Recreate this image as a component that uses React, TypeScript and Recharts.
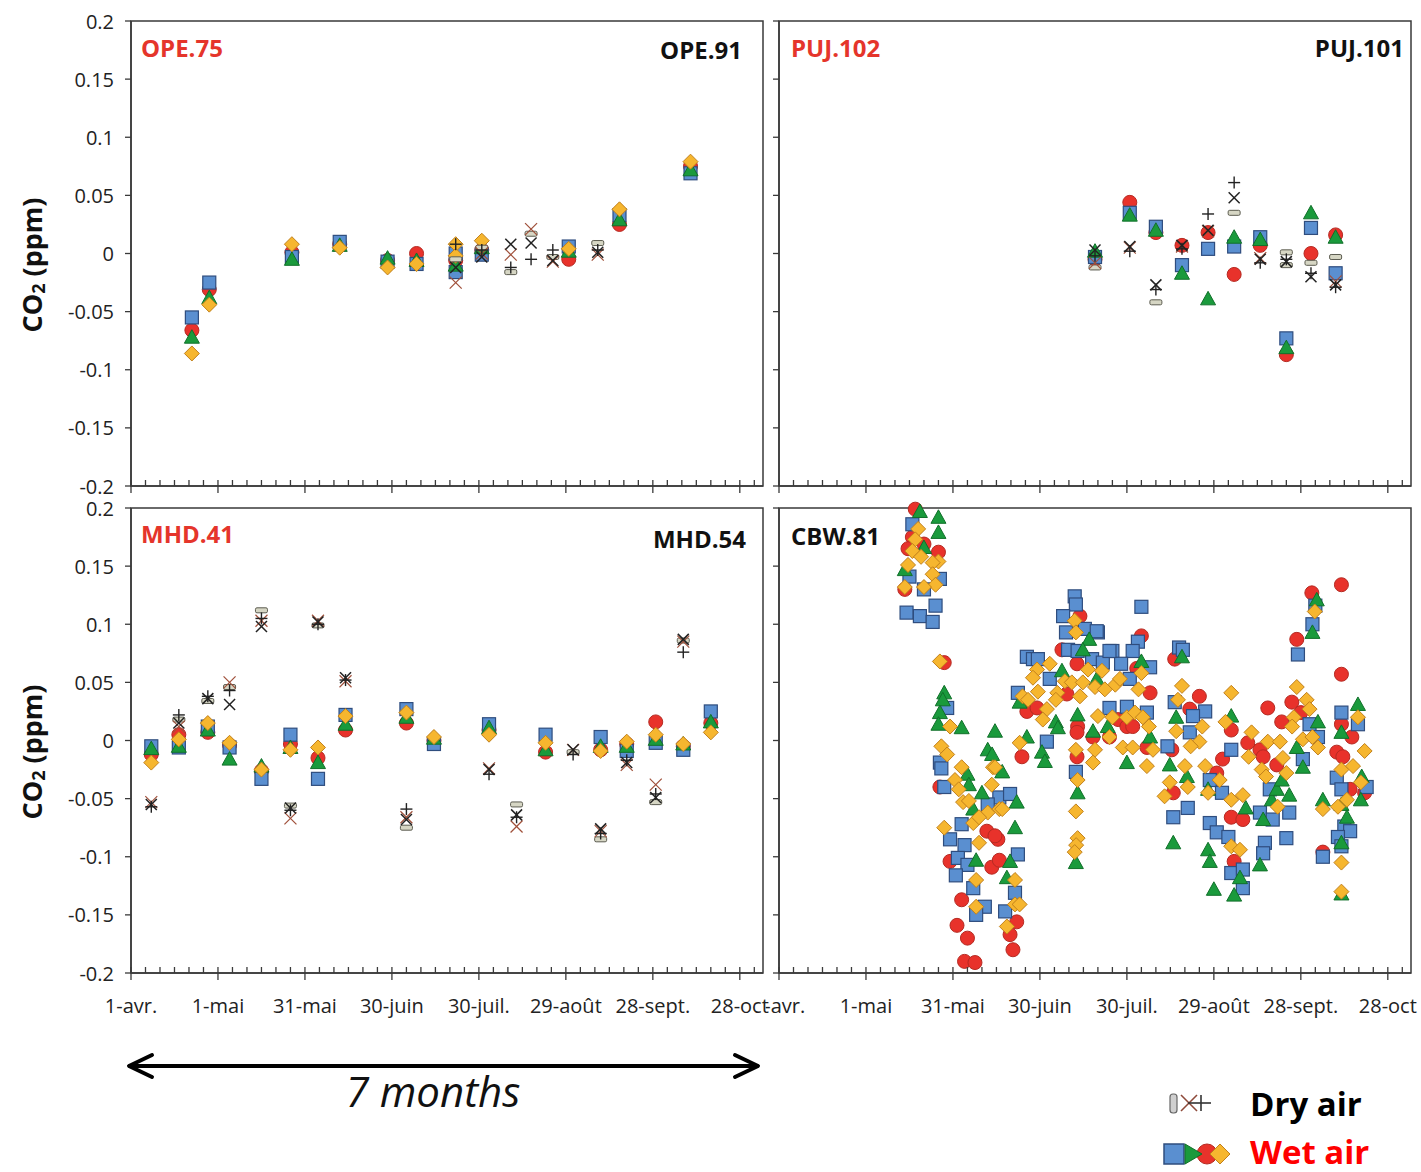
import { ScatterChart, Scatter, XAxis, YAxis, ReferenceArea } from "recharts";

type Pt = [number, number];

// axis ticks / labels
const xTickLabels = ["1-avr.", "1-mai", "31-mai", "30-juin", "30-juil.", "29-août", "28-sept.", "28-oct"];
const xTicks = [0, 5, 10, 15, 20, 25, 30, 35, 40, 45, 50, 55, 60, 65, 70, 75, 80, 85, 90, 95, 100, 105, 110, 115, 120, 125, 130, 135, 140, 145, 150, 155, 160, 165, 170, 175, 180, 185, 190, 195, 200, 205, 210, 215];
const yTicks = [-0.2, -0.15, -0.1, -0.05, 0, 0.05, 0.1, 0.15, 0.2];

// OPE (top left) — [day since 1-avr, CO2 ppm]
const opeRed: Pt[] = [[21, -0.066], [27, -0.031], [55.5, 0.001], [72, 0.008], [88.5, -0.006], [98.5, 0.0], [112, -0.006], [121, 0.003], [151, -0.005], [168.5, 0.025], [193, 0.075]];
const opeBlue: Pt[] = [[21, -0.055], [27, -0.025], [55.5, -0.003], [72, 0.01], [88.5, -0.007], [98.5, -0.009], [112, -0.016], [112, 0.0], [121, -0.001], [151, 0.006], [168.5, 0.033], [193, 0.069]];
const opeGreen: Pt[] = [[21, -0.072], [27, -0.038], [55.5, -0.005], [72, 0.007], [88.5, -0.004], [98.5, -0.006], [112, -0.01], [121, 0.005], [151, 0.002], [168.5, 0.029], [193, 0.072]];
const opeDiamond: Pt[] = [[21, -0.086], [27, -0.044], [55.5, 0.008], [72, 0.005], [88.5, -0.012], [98.5, -0.009], [112, 0.008], [112, -0.002], [121, 0.011], [151, 0.004], [168.5, 0.038], [193, 0.079]];
const opeDash: Pt[] = [[112, -0.005], [121, 0.005], [131, -0.016], [138, 0.017], [145.5, -0.003], [161, 0.009]];
const opeBrown: Pt[] = [[112, -0.025], [121, 0.0], [131, -0.001], [138, 0.021], [145.5, -0.007], [161, -0.001]];
const opeX: Pt[] = [[112, -0.012], [121, -0.003], [131, 0.008], [138, 0.009], [145.5, -0.006], [161, 0.001]];
const opePlus: Pt[] = [[112, 0.008], [121, 0.003], [131, -0.012], [138, -0.005], [145.5, 0.003], [161, 0.003]];

// PUJ (top right)
const pujRed: Pt[] = [[109, -0.005], [121, 0.044], [130, 0.018], [139, 0.007], [148, 0.018], [157, -0.018], [166, 0.007], [175, -0.087], [183.5, 0.0], [192, 0.016]];
const pujBlue: Pt[] = [[109, -0.003], [121, 0.035], [130, 0.023], [139, -0.01], [148, 0.004], [157, 0.006], [166, 0.014], [175, -0.073], [183.5, 0.022], [192, -0.017]];
const pujGreen: Pt[] = [[109, 0.002], [121, 0.033], [130, 0.02], [139, -0.017], [148, -0.039], [157, 0.014], [166, 0.012], [175, -0.081], [183.5, 0.035], [192, 0.014]];
const pujDash: Pt[] = [[109, -0.012], [130, -0.042], [157, 0.035], [175, 0.001], [175, -0.01], [183.5, -0.008], [192, -0.003]];
const pujBrown: Pt[] = [[109, -0.008], [121, 0.005], [139, 0.006], [148, 0.019], [166, -0.004], [192, -0.024]];
const pujX: Pt[] = [[109, 0.003], [121, 0.006], [130, -0.027], [139, 0.007], [148, 0.02], [157, 0.048], [166, -0.005], [175, -0.007], [183.5, -0.02], [192, -0.027]];
const pujPlus: Pt[] = [[109, -0.002], [121, 0.002], [130, -0.031], [139, 0.004], [148, 0.034], [157, 0.061], [166, -0.008], [175, -0.005], [183.5, -0.017], [192, -0.029]];

// MHD (bottom left)
const mhdRed: Pt[] = [[7, -0.012], [16.5, 0.005], [26.5, 0.007], [34, -0.004], [45, -0.026], [55, -0.003], [64.5, -0.015], [74, 0.009], [95, 0.015], [104.5, 0.0], [123.5, 0.009], [143, -0.01], [162, -0.008], [171, -0.003], [181, 0.016], [190.5, -0.005], [200, 0.015]];
const mhdBlue: Pt[] = [[7, -0.005], [16.5, -0.006], [26.5, 0.012], [34, -0.006], [45, -0.033], [55, 0.005], [64.5, -0.033], [74, 0.022], [95, 0.027], [104.5, -0.003], [123.5, 0.014], [143, 0.005], [162, 0.003], [171, -0.009], [181, -0.002], [190.5, -0.008], [200, 0.025]];
const mhdGreen: Pt[] = [[7, -0.007], [16.5, -0.005], [26.5, 0.009], [34, -0.016], [45, -0.022], [55, -0.006], [64.5, -0.019], [74, 0.014], [95, 0.02], [104.5, 0.002], [123.5, 0.011], [143, -0.008], [162, -0.005], [171, -0.005], [181, 0.001], [190.5, -0.003], [200, 0.016]];
const mhdDiamond: Pt[] = [[7, -0.019], [16.5, 0.001], [26.5, 0.015], [34, -0.002], [45, -0.025], [55, -0.008], [64.5, -0.006], [74, 0.021], [95, 0.024], [104.5, 0.003], [123.5, 0.005], [143, -0.002], [162, -0.009], [171, -0.001], [181, 0.005], [190.5, -0.003], [200, 0.007]];
const mhdDash: Pt[] = [[16.5, 0.018], [26.5, 0.034], [34, 0.046], [45, 0.112], [55, -0.056], [64.5, 0.099], [95, -0.075], [133, -0.055], [152.5, -0.01], [162, -0.085], [181, -0.053], [190.5, 0.086]];
const mhdBrown: Pt[] = [[7, -0.053], [16.5, 0.012], [34, 0.05], [45, 0.103], [55, -0.067], [64.5, 0.103], [74, 0.051], [95, -0.066], [123.5, -0.024], [133, -0.074], [152.5, -0.008], [162, -0.078], [171, -0.021], [181, -0.038], [190.5, 0.085]];
const mhdX: Pt[] = [[7, -0.055], [16.5, 0.015], [26.5, 0.036], [34, 0.031], [45, 0.098], [55, -0.058], [64.5, 0.102], [74, 0.054], [95, -0.068], [123.5, -0.025], [133, -0.064], [152.5, -0.008], [162, -0.076], [171, -0.019], [181, -0.049], [190.5, 0.087]];
const mhdPlus: Pt[] = [[7, -0.057], [16.5, 0.022], [26.5, 0.038], [34, 0.043], [45, 0.105], [55, -0.06], [64.5, 0.1], [74, 0.052], [95, -0.059], [123.5, -0.029], [133, -0.066], [152.5, -0.012], [162, -0.08], [171, -0.017], [181, -0.046], [190.5, 0.076]];

// CBW (bottom right)
const cbwRed: Pt[] = [
  [47, 0.199], [46, 0.175], [50, 0.169], [44.5, 0.165], [55, 0.162], [43.4, 0.13], [57, 0.067],
  [55.5, -0.04], [71.7, -0.078], [75.5, -0.085], [59, -0.104], [73.4, -0.109], [76, -0.103], [63, -0.137], [82, -0.156],
  [61.4, -0.159], [65, -0.17], [79.7, -0.167], [80.7, -0.18], [64, -0.19], [67.6, -0.191], [74.5, -0.082],
  [103.8, 0.107], [125, 0.09], [97.6, 0.078], [102.8, 0.066], [123.4, 0.062], [128, 0.041], [85.5, 0.025], [89, 0.028],
  [99.3, 0.04], [103, 0.012], [102.8, 0.007], [102.8, -0.014], [83.8, -0.014], [108.3, 0.003], [114, 0.003], [117, 0.018],
  [120, 0.012], [122, 0.012], [126.9, -0.006],
  [136.5, 0.07], [145, 0.038], [141.7, 0.027], [135.5, -0.008], [136, -0.045], [156, 0.009], [153, -0.016], [151, -0.028],
  [156, -0.066], [160, -0.068], [157, -0.104], [161.7, -0.002], [165.9, -0.008], [168.6, 0.028], [167, -0.014], [173.4, 0.016],
  [171.7, -0.021], [176.9, 0.033], [180, 0.024], [183.8, 0.127], [178.6, 0.087], [194, 0.134], [194, 0.057], [194, 0.014],
  [197.6, 0.003], [192.4, -0.01], [194.5, -0.014], [197, -0.042], [202, -0.045], [187.6, -0.096],
];
const cbwBlue: Pt[] = [
  [46, 0.186], [45, 0.141], [55.5, 0.139], [50, 0.13], [44, 0.11], [48.6, 0.107], [53, 0.102], [54, 0.116],
  [58, 0.028], [55.5, -0.019], [56, -0.024], [57, -0.04], [63, -0.072], [59, -0.085], [64, -0.09], [76, -0.049],
  [79.7, -0.046], [72, -0.055], [61.7, -0.101], [82.4, -0.098], [65, -0.107], [61, -0.116], [67, -0.127], [81.4, -0.131],
  [71, -0.143], [68, -0.15], [78, -0.147],
  [102, 0.124], [102.4, 0.117], [98, 0.107], [125, 0.115], [99, 0.093], [105.5, 0.096], [110, 0.093], [123.8, 0.085],
  [99.7, 0.078], [103, 0.077], [115, 0.077], [122, 0.077], [85.5, 0.072], [87.6, 0.07], [89.3, 0.07], [108, 0.07],
  [111.7, 0.067], [118, 0.066], [128, 0.063], [93.4, 0.053], [121, 0.053], [82.4, 0.041], [92.4, -0.001], [102.4, -0.027],
  [114, 0.028], [120, 0.029], [126.9, 0.024], [109.6, 0.094], [114, 0.077],
  [138, 0.08], [139.3, 0.078], [136.5, 0.033], [147, 0.025], [142.8, 0.021], [141.7, 0.007], [141, -0.058], [134, -0.005],
  [136, -0.066], [156, -0.008], [148.6, -0.034], [152.8, -0.045], [148.6, -0.071], [151, -0.079], [155, -0.083], [156, -0.114],
  [160, -0.111], [160, -0.127], [169.3, -0.042], [165.9, -0.062], [167.6, -0.088], [167, -0.097], [170.3, -0.068], [176, -0.062],
  [175, -0.084], [183, 0.014], [180.7, -0.016], [185.9, 0.003], [184, 0.1], [179, 0.074], [185, 0.116], [194, 0.024],
  [199.7, 0.014], [192.4, -0.032], [202.7, -0.04], [194, -0.042], [195, -0.074], [197, -0.078], [192.8, -0.083], [194, -0.091],
  [187.6, -0.1],
];
const cbwGreen: Pt[] = [
  [48.6, 0.197], [55, 0.192], [55, 0.179], [50, 0.166], [43.4, 0.147],
  [57, 0.041], [56.5, 0.035], [55.5, 0.024], [55, 0.014], [63, 0.011], [65, -0.029], [65.5, -0.038], [67, -0.059],
  [74.5, 0.008], [72, -0.008], [73.5, -0.012], [77, -0.027], [70, -0.045], [82, -0.053], [81.4, -0.075], [68, -0.103],
  [79.7, -0.104], [78.6, -0.118],
  [107, 0.087], [104.8, 0.078], [125, 0.068], [97.6, 0.06], [109.6, 0.053], [83, 0.033], [95.5, 0.016], [96.2, 0.011],
  [103, 0.022], [103, -0.045], [102.4, -0.105], [90.7, -0.01], [91.7, -0.018], [85.5, 0.003], [108.3, 0.008], [113.4, 0.012],
  [128, 0.003], [120, -0.019],
  [139, 0.072], [137, 0.02], [140.7, -0.031], [134.8, -0.021], [136, -0.088], [156, 0.021], [148, -0.042], [159, -0.118],
  [150, -0.128], [157, -0.133], [148, -0.094], [148.6, -0.104], [161, -0.058], [170, -0.051], [167, -0.068], [165.9, -0.107],
  [171.7, -0.042], [173.4, -0.034], [176, -0.047], [178.6, -0.006], [180.7, -0.023], [185.9, 0.016], [185.5, 0.121], [184, 0.093],
  [194, 0.007], [199.7, 0.031], [201, -0.031], [200.7, -0.051], [194, -0.055], [187.6, -0.051], [195.9, -0.066], [194, -0.088],
  [194, -0.132],
];
const cbwDiamond: Pt[] = [
  [48, 0.182], [47, 0.173], [46, 0.163], [49, 0.158], [55, 0.154], [53, 0.153], [44.5, 0.151], [53, 0.143], [54, 0.134],
  [43.4, 0.132], [50, 0.132], [55.5, 0.068],
  [59, 0.012], [56, -0.005], [58, -0.012], [63, -0.023], [60.7, -0.034], [62, -0.042], [63.5, -0.053], [65.5, -0.052],
  [67, -0.071], [57, -0.075], [69, -0.088], [72, -0.062], [76, -0.059], [73.8, -0.023], [73.4, -0.038], [69, -0.066],
  [68, -0.12], [81.4, -0.12], [68, -0.143], [81.4, -0.141], [83, -0.141], [78.6, -0.16], [74.5, -0.023], [77, -0.059],
  [102, 0.103], [102.4, 0.093], [93.4, 0.066], [89, 0.061], [106.6, 0.061], [111.4, 0.06], [125, 0.058], [87.6, 0.054],
  [98.6, 0.051], [101, 0.05], [104.8, 0.05], [109, 0.046], [112.4, 0.044], [116, 0.048], [117.6, 0.053], [124, 0.044],
  [84, 0.038], [85.9, 0.035], [89.3, 0.042], [92.4, 0.027], [91, 0.018], [96, 0.041], [95.5, 0.035], [103.8, 0.038],
  [102.4, -0.008], [103, -0.034], [102.4, -0.061], [103, -0.084], [102.5, -0.09], [102, -0.096], [83, -0.002], [109, -0.008],
  [108.3, -0.019], [110, 0.021], [114, 0.003], [115, 0.02], [120, 0.02], [122.8, 0.024], [125.5, 0.02], [127.6, 0.012],
  [129, -0.008], [118.6, -0.006], [122, -0.006], [126.9, -0.022],
  [139, 0.047], [137.6, 0.035], [137, 0.008], [146, 0.012], [145, -0.001], [142, -0.005], [147, -0.022], [140, -0.022],
  [141, -0.04], [134.8, -0.036], [133, -0.048], [156, 0.041], [154, 0.016], [152, -0.034], [148, -0.045], [156, -0.051],
  [156, -0.091], [159, -0.094], [160, -0.047], [163, 0.007], [162, -0.014], [168.6, -0.001], [166.5, -0.025], [168, -0.031],
  [172.8, -0.001], [173.8, -0.015], [172, -0.057], [175, -0.028], [178.6, 0.046], [182, 0.035], [183, 0.027], [177.6, 0.02],
  [177, 0.012], [180.7, 0.001], [184, 0.003], [185.9, -0.006], [184.8, 0.111], [199.7, 0.02], [202, -0.009], [194, -0.025],
  [198, -0.022], [200.7, -0.036], [195.9, -0.051], [187.6, -0.059], [192.8, -0.057], [194, -0.105], [194, -0.13],
];

const FONT = "'Open Sans', 'Noto Sans', sans-serif";
const AXIS = "#3a3a3a";
const PW = 632;
const PH = 465;

function Square(p: any) {
  return <rect x={p.cx - 6.5} y={p.cy - 6.5} width={13} height={13} fill="#5a8fd0" stroke="#2f4d7e" strokeWidth={1.2} />;
}
function Circle(p: any) {
  return <circle cx={p.cx} cy={p.cy} r={7} fill="#e8322b" stroke="#b52a22" strokeWidth={1} />;
}
function Triangle(p: any) {
  const { cx, cy } = p;
  return <polygon points={`${cx},${cy - 7.5} ${cx + 7.5},${cy + 6} ${cx - 7.5},${cy + 6}`} fill="#1a9a3c" stroke="#11702a" strokeWidth={1} />;
}
function Diamond(p: any) {
  const { cx, cy } = p;
  return <polygon points={`${cx},${cy - 7.5} ${cx + 7.5},${cy} ${cx},${cy + 7.5} ${cx - 7.5},${cy}`} fill="#f6b62f" stroke="#c1801c" strokeWidth={1} />;
}
function Cross(p: any) {
  const { cx, cy } = p;
  return (
    <g stroke="#222" strokeWidth={1.5}>
      <line x1={cx - 5.5} y1={cy - 5.5} x2={cx + 5.5} y2={cy + 5.5} />
      <line x1={cx - 5.5} y1={cy + 5.5} x2={cx + 5.5} y2={cy - 5.5} />
    </g>
  );
}
function BrownCross(p: any) {
  const { cx, cy } = p;
  return (
    <g stroke="#a0503a" strokeWidth={1.2}>
      <line x1={cx - 6} y1={cy - 6} x2={cx + 6} y2={cy + 6} />
      <line x1={cx - 6} y1={cy + 6} x2={cx + 6} y2={cy - 6} />
    </g>
  );
}
function Plus(p: any) {
  const { cx, cy } = p;
  return (
    <g stroke="#222" strokeWidth={1.4}>
      <line x1={cx - 6} y1={cy} x2={cx + 6} y2={cy} />
      <line x1={cx} y1={cy - 6} x2={cx} y2={cy + 6} />
    </g>
  );
}
function Dash(p: any) {
  return <rect x={p.cx - 6} y={p.cy - 2.5} width={12} height={5} rx={1.5} fill="#d6d6c4" stroke="#5c5c50" strokeWidth={1} />;
}

function XTick(props: any) {
  const { x, y, payload, showLabel, mask } = props;
  const d = payload.value;
  const major = d % 30 === 0;
  const label = major ? xTickLabels[d / 30] : "";
  return (
    <g>
      <line x1={x} x2={x} y1={y - 6} y2={major ? y + 7 : y} stroke={AXIS} strokeWidth={1.3} />
      {major && showLabel && (
        <g>
          {mask && <rect x={x - label.length * 4.3} y={y + 20} width={label.length * 8.6} height={24} fill="#fff" />}
          <text x={x} y={y + 32} textAnchor="middle" dominantBaseline="central" fontSize={20} fill="#222" fontFamily={FONT}>
            {label}
          </text>
        </g>
      )}
    </g>
  );
}

function YTick(props: any) {
  const { x, y, payload, showLabel } = props;
  return (
    <g>
      <line x1={x - 6} x2={x} y1={y} y2={y} stroke={AXIS} strokeWidth={1.3} />
      {showLabel && (
        <text x={x - 17} y={y} textAnchor="end" dominantBaseline="central" fontSize={20} fill="#222" fontFamily={FONT}>
          {String(Number(payload.value.toFixed(2)))}
        </text>
      )}
    </g>
  );
}

type Series = { data: Pt[]; shape: (p: any) => any };

function Panel({ left, top, series, showX, showY, mask }: { left: number; top: number; series: Series[]; showX: boolean; showY: boolean; mask?: boolean }) {
  return (
    <div style={{ position: "absolute", left: left - 70, top: top - 20 }}>
      <ScatterChart width={PW + 80} height={PH + 65} margin={{ top: 20, right: 10, bottom: 5, left: 10 }}>
        <ReferenceArea x1={0} x2={218} y1={-0.2} y2={0.2} fill="none" stroke={AXIS} strokeWidth={1.5} ifOverflow="visible" />
        <XAxis
          type="number"
          dataKey="d"
          domain={[0, 218]}
          ticks={xTicks}
          interval={0}
          height={40}
          tickSize={0}
          tickMargin={0}
          tickLine={false}
          axisLine={{ stroke: AXIS, strokeWidth: 1.5 }}
          tick={(p: any) => <XTick {...p} showLabel={showX} mask={mask} />}
        />
        <YAxis
          type="number"
          dataKey="v"
          domain={[-0.2, 0.2]}
          ticks={yTicks}
          interval={0}
          width={60}
          tickSize={0}
          tickMargin={0}
          tickLine={false}
          axisLine={{ stroke: AXIS, strokeWidth: 1.5 }}
          tick={(p: any) => <YTick {...p} showLabel={showY} />}
        />
        {series.map((s, i) => (
          <Scatter
            key={i}
            data={s.data.map(([d, v]) => ({ d, v }))}
            shape={s.shape}
            isAnimationActive={false}
          />
        ))}
      </ScatterChart>
    </div>
  );
}

function YTitle({ cy }: { cy: number }) {
  return (
    <text
      transform={`translate(31 ${cy}) rotate(-90)`}
      textAnchor="middle"
      dominantBaseline="central"
      fontSize={27}
      fontWeight="bold"
      fontFamily={FONT}
      fill="#111"
    >
      CO<tspan fontSize={18} dy={7}>2</tspan>
      <tspan dy={-7}> (ppm)</tspan>
    </text>
  );
}

export default function App() {
  const red = "#e5352b";
  const lab = { fontFamily: FONT, fontWeight: "bold" as const, fontSize: 24 };
  return (
    <div style={{ position: "absolute", left: 0, top: 0, width: 1421, height: 1172, background: "#fff", overflow: "hidden" }}>
      <Panel
        left={779}
        top={21}
        showX={false}
        showY={false}
        series={[
          { data: pujRed, shape: Circle }, { data: pujBlue, shape: Square }, { data: pujGreen, shape: Triangle },
          { data: pujDash, shape: Dash }, { data: pujBrown, shape: BrownCross }, { data: pujX, shape: Cross }, { data: pujPlus, shape: Plus },
        ]}
      />
      <Panel
        left={779}
        top={508}
        showX={true}
        showY={false}
        series={[
          { data: cbwRed, shape: Circle }, { data: cbwBlue, shape: Square }, { data: cbwGreen, shape: Triangle }, { data: cbwDiamond, shape: Diamond },
        ]}
      />
      <Panel
        left={131}
        top={21}
        showX={false}
        showY={true}
        series={[
          { data: opeRed, shape: Circle }, { data: opeBlue, shape: Square }, { data: opeGreen, shape: Triangle }, { data: opeDiamond, shape: Diamond },
          { data: opeDash, shape: Dash }, { data: opeBrown, shape: BrownCross }, { data: opeX, shape: Cross }, { data: opePlus, shape: Plus },
        ]}
      />
      <Panel
        left={131}
        top={508}
        showX={true}
        showY={true}
        mask={true}
        series={[
          { data: mhdRed, shape: Circle }, { data: mhdBlue, shape: Square }, { data: mhdGreen, shape: Triangle }, { data: mhdDiamond, shape: Diamond },
          { data: mhdDash, shape: Dash }, { data: mhdBrown, shape: BrownCross }, { data: mhdX, shape: Cross }, { data: mhdPlus, shape: Plus },
        ]}
      />
      <svg width={1421} height={1172} style={{ position: "absolute", left: 0, top: 0, pointerEvents: "none" }}>
        <YTitle cy={265} />
        <YTitle cy={752} />

        <text x={141} y={47} dominantBaseline="central" fill={red} {...lab}>OPE.75</text>
        <text x={742} y={49} dominantBaseline="central" textAnchor="end" fill="#111" {...lab}>OPE.91</text>
        <text x={791} y={47} dominantBaseline="central" fill={red} {...lab}>PUJ.102</text>
        <text x={1404} y={47} dominantBaseline="central" textAnchor="end" fill="#111" {...lab}>PUJ.101</text>
        <text x={141} y={533} dominantBaseline="central" fill={red} {...lab}>MHD.41</text>
        <text x={746} y={538} dominantBaseline="central" textAnchor="end" fill="#111" {...lab}>MHD.54</text>
        <text x={791} y={535} dominantBaseline="central" fill="#111" {...lab}>CBW.81</text>

        {/* 7 months arrow */}
        <g stroke="#000" strokeWidth={4} fill="none" strokeLinecap="round" strokeLinejoin="round">
          <line x1={130} y1={1066} x2={757} y2={1066} />
          <polyline points="152,1055 129,1066 152,1077" />
          <polyline points="735,1055 758,1066 735,1077" />
        </g>
        <text x={433} y={1090} textAnchor="middle" dominantBaseline="central" fontSize={42} fontStyle="italic" fontFamily={FONT} fill="#111">
          7 months
        </text>

        {/* legend */}
        <rect x={1170} y={1094} width={7} height={19} rx={3} fill="#cfcfcf" stroke="#666" strokeWidth={1.2} />
        <g stroke="#8e4a3a" strokeWidth={1.6}>
          <line x1={1181} y1={1095} x2={1197} y2={1111} />
          <line x1={1181} y1={1111} x2={1197} y2={1095} />
        </g>
        <g stroke="#333" strokeWidth={1.6}>
          <line x1={1188} y1={1103} x2={1211} y2={1103} />
          <line x1={1201} y1={1095} x2={1201} y2={1111} />
        </g>
        <text x={1250} y={1103} dominantBaseline="central" fontSize={33} fontWeight="bold" fontFamily={FONT} fill="#000">Dry air</text>

        <rect x={1164} y={1144} width={20} height={20} fill="#5a8fd0" stroke="#2f4d7e" strokeWidth={1.5} />
        <circle cx={1207} cy={1154} r={10} fill="#e8322b" stroke="#b52a22" strokeWidth={1} />
        <polygon points="1185,1144 1185,1164 1202,1154" fill="#1a9a3c" stroke="#11702a" strokeWidth={1} />
        <polygon points="1220,1144 1230,1154 1220,1164 1210,1154" fill="#f6b62f" stroke="#c1801c" strokeWidth={1} />
        <text x={1250} y={1151} dominantBaseline="central" fontSize={33} fontWeight="bold" fontFamily={FONT} fill="#ff0000">Wet air</text>
      </svg>
    </div>
  );
}
